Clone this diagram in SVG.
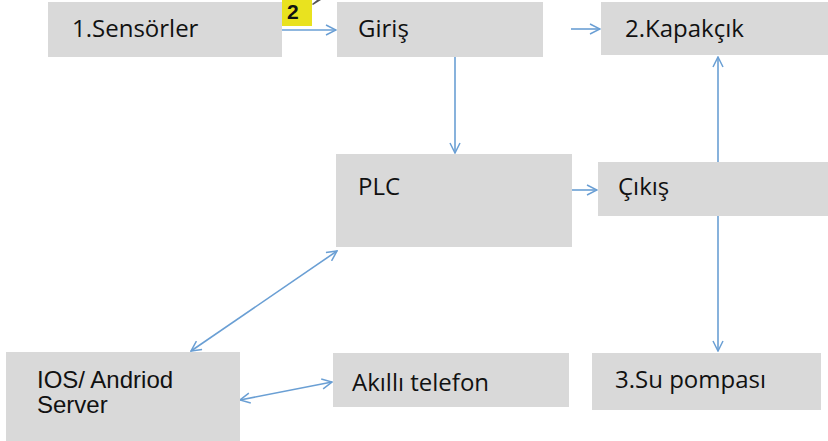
<svg xmlns="http://www.w3.org/2000/svg" width="828" height="441" viewBox="0 0 828 441">
<defs>
<marker id="ah" viewBox="0 0 12 12" refX="11" refY="6" markerWidth="12" markerHeight="12" markerUnits="userSpaceOnUse" orient="auto-start-reverse">
<path d="M1,1 L11,6 L1,11" fill="none" stroke="#6a9fd4" stroke-width="1.5"/>
</marker>
<style>
.box{fill:#d9d9d9}
.t{font-family:"Open Sans",sans-serif;font-size:24px;fill:#111}
.a{font-family:"Liberation Sans",Arial,sans-serif;font-size:24px;fill:#111}
.c{stroke:#6a9fd4;stroke-width:1.6;fill:none;marker-end:url(#ah)}
.d{stroke:#6a9fd4;stroke-width:1.6;fill:none;marker-end:url(#ah);marker-start:url(#ah)}
</style>
</defs>
<rect width="828" height="441" fill="#fff"/>
<g id="connectors">
<line class="c" x1="282" y1="30" x2="336" y2="30"/>
<line class="c" x1="571" y1="29" x2="600" y2="29"/>
<line class="c" x1="455" y1="57" x2="455" y2="153"/>
<line class="c" x1="572" y1="190" x2="597" y2="190"/>
<line class="c" x1="718" y1="162" x2="718" y2="57"/>
<line class="c" x1="718" y1="216" x2="718" y2="351"/>
<line class="d" x1="191" y1="351" x2="337" y2="251"/>
<line class="d" x1="240" y1="400" x2="332" y2="382"/>
</g>
<g id="sensorler"><rect class="box" x="48" y="2" width="234" height="55"/><text class="t" x="72" y="37">1.Sensörler</text></g>
<g id="label2"><rect x="282" y="0" width="30" height="26" fill="#e9e21f"/><text x="287" y="19" font-family="Liberation Sans,Arial,sans-serif" font-size="21" font-weight="bold" fill="#111">2</text><path d="M312,4 L317,0 L321,0 L313,5 Z" fill="#555"/></g>
<g id="giris"><rect class="box" x="337" y="2" width="206" height="55"/><text class="t" x="358" y="37">Giriş</text></g>
<g id="kapakcik"><rect class="box" x="601" y="2" width="227" height="53"/><text class="t" x="625" y="37">2.Kapakçık</text></g>
<g id="plc"><rect class="box" x="336" y="154" width="236" height="93"/><text class="t" x="358" y="195">PLC</text></g>
<g id="cikis"><rect class="box" x="598" y="162" width="230" height="54"/><text class="t" x="618" y="195">Çıkış</text></g>
<g id="server"><rect class="box" x="6" y="352" width="234" height="89"/><text class="a" x="37" y="388">IOS/ Andriod</text><text class="a" x="37" y="413">Server</text></g>
<g id="telefon"><rect class="box" x="333" y="353" width="236" height="54"/><text class="t" x="352" y="391">Akıllı telefon</text></g>
<g id="supompasi"><rect class="box" x="592" y="353" width="229" height="57"/><text class="t" x="615" y="388">3.Su pompası</text></g>
</svg>
